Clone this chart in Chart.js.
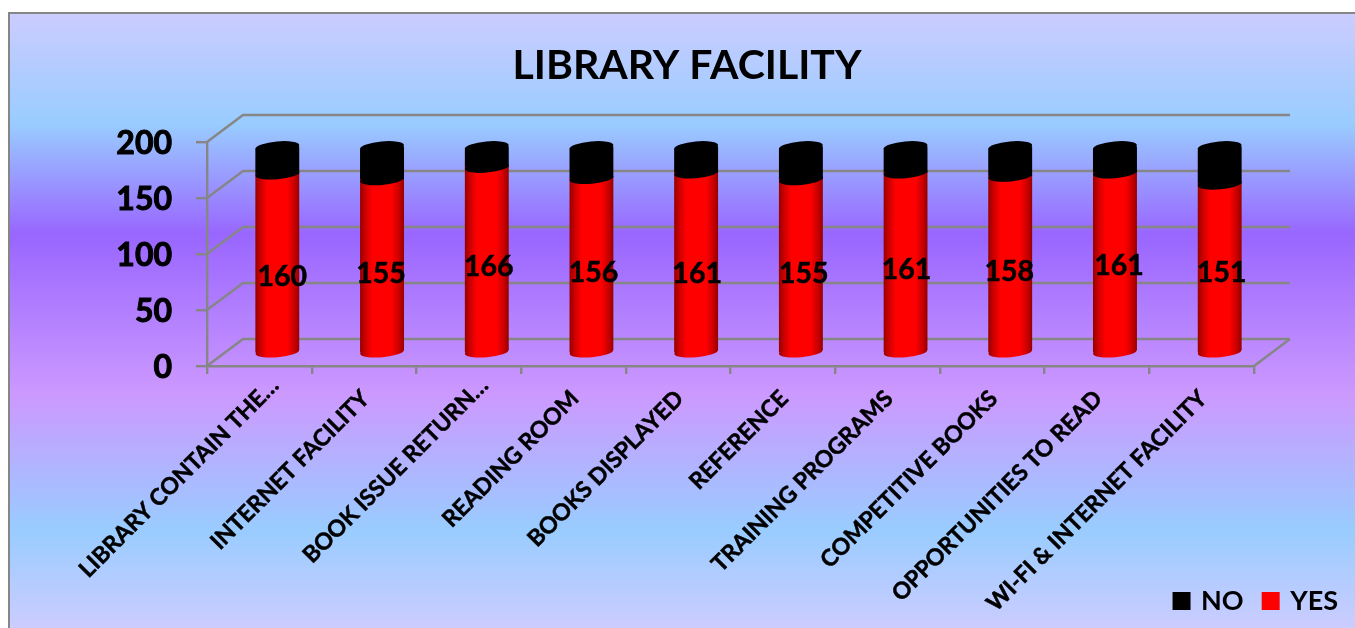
<!DOCTYPE html>
<html><head><meta charset="utf-8">
<style>html,body{margin:0;padding:0;background:#fff;overflow:hidden}canvas{display:block}</style>
<script src="https://cdn.jsdelivr.net/npm/chart.js@4"></script></head>
<body><canvas id="c" width="1355" height="628"></canvas>
<script>
const titleText = "LIBRARY FACILITY";
const categories = ["LIBRARY CONTAIN THE…","INTERNET FACILITY","BOOK ISSUE RETURN…","READING ROOM","BOOKS DISPLAYED","REFERENCE","TRAINING PROGRAMS","COMPETITIVE BOOKS","OPPORTUNITIES TO READ","WI-FI & INTERNET FACILITY"];
const yesValues = [160,155,166,156,161,155,161,158,161,151];
const noValues  = [24,29,18,28,23,29,23,26,23,33];
const yTicks = [0,50,100,150,200];
// hand-placed label drift seen in the reference (relative to each bar's middle)
const labelNudgeX = [5,-1,2,2,1,3,1,-1,4,2];
const labelNudgeY = [14,8,7,8,12,8,8,8,4,5];

const FONT = "Lato";
const GRID = "#868686";
const DEPTH_X = 36, DEPTH_Y = 27;
const BAR_DX = 18, BAR_DY = -13;
const TILT = -Math.PI/36, CAP_RY = 5.5;
const BOTTOM = 366, LEFT = 207;

function barGradient(chart, cx, w, stops){
  const g = chart.ctx.createLinearGradient(cx - w/2, 0, cx + w/2, 0);
  stops.forEach(s => g.addColorStop(s[0], s[1]));
  return g;
}
const redStops = [[0,"#960000"],[.12,"#cc0000"],[.28,"#ff0000"],[.72,"#ff0000"],[.88,"#cc0000"],[1,"#960000"]];

function redFill(ctx){
  const chart = ctx.chart;
  const px = (chart.scales.x && ctx.dataIndex !== undefined) ? chart.scales.x.getPixelForValue(ctx.dataIndex) : NaN;
  return Number.isFinite(px) ? barGradient(chart, px, 44, redStops) : "#ff0000";
}

const cyl = {
  id: "cyl",
  beforeDraw(chart){
    const c = chart.ctx;
    const g = c.createLinearGradient(0, 13, 0, 628);
    [[0,"#ccccff"],[.18,"#99ccff"],[.36,"#9966ff"],[.62,"#cc99ff"],[.84,"#99ccff"],[1,"#ccccff"]].forEach(s => g.addColorStop(s[0], s[1]));
    c.save();
    c.fillStyle = g;
    c.fillRect(9, 13, 1346, 615);
    c.strokeStyle = GRID; c.lineWidth = 2;
    c.beginPath(); c.moveTo(9, 628); c.lineTo(9, 13); c.lineTo(1355, 13); c.stroke();
    c.restore();
    // the truncated labels sit further along their diagonal in the reference
    chart.scales.x.getLabelItems().forEach(item => {
      if (String(item.label).endsWith("…") && !item.nudged) {
        item.options.translation[0] += 14;
        item.options.translation[1] -= 13;
        item.nudged = true;
      }
    });
  },
  afterLayout(chart){
    const t = chart.titleBlock, l = chart.legend;
    t.left += 60; t.right += 60;
    l.left += 105; l.right += 105;
    l.top -= 3.5; l.bottom -= 3.5;
    chart.scales.x.bottom = 628; // let the long slanted labels run past the legend row without being clipped
  },
  beforeDatasetsDraw(chart){
    const c = chart.ctx, y = chart.scales.y, x = chart.scales.x;
    const L = x.left, R = x.right;
    c.save();
    c.strokeStyle = GRID; c.lineWidth = 2.4; c.lineJoin = "miter";
    yTicks.forEach(v => {
      const p = y.getPixelForValue(v);
      c.beginPath();
      c.moveTo(L, p);
      c.lineTo(L + DEPTH_X, p - DEPTH_Y);
      c.lineTo(R + DEPTH_X, p - DEPTH_Y);
      c.stroke();
    });
    const b = y.getPixelForValue(0);
    c.beginPath(); c.moveTo(R, b); c.lineTo(R + DEPTH_X, b - DEPTH_Y); c.stroke();
    c.restore();
    // shift the bars into the middle of the 3-D depth, and trim their square ends to the tilted caps
    c.save();
    c.translate(BAR_DX, BAR_DY);
    c.save();
    const red = chart.getDatasetMeta(0).data, blk = chart.getDatasetMeta(1).data;
    c.beginPath();
    red.forEach((bar, i) => {
      const hw = bar.width/2, rise = hw*Math.sin(-TILT), top = blk[i].y;
      c.moveTo(bar.x - hw, top + rise);
      c.lineTo(bar.x + hw, top - rise);
      c.lineTo(bar.x + hw, bar.base - rise);
      c.lineTo(bar.x - hw, bar.base + rise);
      c.closePath();
    });
    c.clip();
  },
  afterDatasetsDraw(chart){
    const c = chart.ctx;
    c.restore();
    const red = chart.getDatasetMeta(0).data, blk = chart.getDatasetMeta(1).data;
    const cap = (x, y, w, fill) => {
      c.beginPath();
      c.ellipse(x, y, w/2, CAP_RY, TILT, 0, 2*Math.PI);
      c.fillStyle = fill; c.fill();
    };
    red.forEach((bar, i) => {
      const w = bar.width;
      c.save();
      c.beginPath();
      c.rect(bar.x - w/2, bar.base - 3, w, 20);
      c.clip();
      cap(bar.x, bar.base, w, barGradient(chart, bar.x, w, redStops));
      c.restore();
      cap(bar.x, bar.y, w, "#000");
      cap(blk[i].x, blk[i].y, w, "#000");
    });
    c.restore();
    c.save();
    c.font = "bold 28.5px " + FONT;
    c.fillStyle = "#000"; c.textAlign = "center"; c.textBaseline = "middle";
    c.strokeStyle = "#000"; c.lineWidth = .5;
    red.forEach((bar, i) => {
      const mid = (bar.y + bar.base) / 2 + BAR_DY + labelNudgeY[i];
      const tx = bar.x + BAR_DX + labelNudgeX[i];
      c.fillText(String(yesValues[i]), tx, mid);
      c.strokeText(String(yesValues[i]), tx, mid);
    });
    c.restore();
  }
};

const legendColors = {YES:"#ff0000", NO:"#000000"};

new Chart(document.getElementById("c"), {
  type: "bar",
  data: {
    labels: categories,
    datasets: [
      {label:"YES", data: yesValues, backgroundColor: redFill, borderWidth:0, barThickness:44, stack:"s"},
      {label:"NO",  data: noValues,  backgroundColor: "#000000", borderWidth:0, barThickness:44, stack:"s"}
    ]
  },
  options: {
    responsive:false, animation:false, devicePixelRatio:1,
    layout:{padding:{left:0,right:101,top:20,bottom:0}},
    plugins:{
      tooltip:{enabled:false},
      title:{display:true,text:titleText,color:"#000",font:{family:FONT,size:41,weight:"bold",lineHeight:1.2},padding:{top:21.2,bottom:51.6}},
      legend:{display:true,position:"bottom",align:"end",reverse:true,
        labels:{color:"#000",boxWidth:12,boxHeight:12,padding:21,font:{family:FONT,size:27,weight:"bold"},
          generateLabels(chart){
            return chart.data.datasets.map((d, i) => ({
              text:d.label, datasetIndex:i, fontColor:"#000",
              fillStyle:legendColors[d.label], strokeStyle:legendColors[d.label], lineWidth:6
            }));
          }}}
    },
    scales:{
      x:{stacked:true,
        grid:{display:true,drawOnChartArea:false,color:GRID,lineWidth:2.4,tickLength:8,offset:true},
        border:{display:true,color:GRID,width:2.4},
        ticks:{color:"#000",font:{family:FONT,size:23,weight:"bold"},minRotation:45,maxRotation:45,autoSkip:false,padding:11,labelOffset:1.5,textStrokeColor:"#000",textStrokeWidth:.5},
        afterFit(s){ s.height = 628 - BOTTOM - s.chart.legend.height; }
      },
      y:{stacked:true,min:0,max:200,
        grid:{display:true,drawOnChartArea:false,color:GRID,lineWidth:2.4,tickLength:11},
        border:{display:true,color:GRID,width:2.4},
        ticks:{color:"#000",font:{family:FONT,size:32,weight:"bold"},stepSize:50,padding:24,labelOffset:2,textStrokeColor:"#000",textStrokeWidth:1},
        afterFit(s){ s.width = LEFT; }
      }
    }
  },
  plugins:[cyl]
});
</script></body></html>
